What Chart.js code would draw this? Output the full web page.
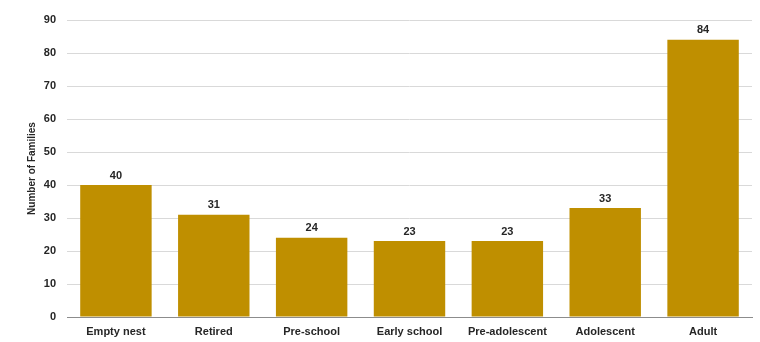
<!DOCTYPE html>
<html>
<head>
<meta charset="utf-8">
<script src="https://cdn.jsdelivr.net/npm/chart.js@4/dist/chart.umd.min.js"></script>
<style>
  html, body { margin: 0; padding: 0; background: #fff; }
  #wrap { width: 760px; height: 342px; }
</style>
</head>
<body>
<div id="wrap"><canvas id="chart" width="760" height="342"></canvas></div>
<script>
// Family life-cycle stages
const stages = ['Empty nest', 'Retired', 'Pre-school', 'Early school', 'Pre-adolescent', 'Adolescent', 'Adult'];
const families = [40, 31, 24, 23, 23, 33, 84];

const FONT = "'Liberation Sans', Arial, sans-serif";
const barColor = '#bf8f00';

// draw the value above each bar
const valueLabels = {
  id: 'valueLabels',
  afterDatasetsDraw(chart) {
    const ctx = chart.ctx;
    const meta = chart.getDatasetMeta(0);
    ctx.save();
    ctx.font = 'bold 11px ' + FONT;
    ctx.fillStyle = '#262626';
    ctx.textAlign = 'center';
    ctx.textBaseline = 'bottom';
    meta.data.forEach((bar, i) => {
      ctx.fillText(families[i], bar.x, bar.y - 4);
    });
    ctx.restore();
  }
};

new Chart(document.getElementById('chart'), {
  type: 'bar',
  data: {
    labels: stages,
    datasets: [{
      label: 'Number of Families',
      data: families,
      backgroundColor: barColor,
      categoryPercentage: 0.73,
      barPercentage: 1.0
    }]
  },
  options: {
    responsive: false,
    animation: false,
    layout: { padding: { left: 22, right: 8, top: 20, bottom: 4 } },
    plugins: {
      legend: { display: false },
      tooltip: { enabled: false }
    },
    scales: {
      x: {
        grid: { display: false, drawTicks: false },
        border: { display: true, color: '#8c8c8c', width: 1 },
        ticks: {
          color: '#262626',
          font: { family: FONT, size: 11, weight: 'bold' },
          padding: 8,
          maxRotation: 0
        },
        afterFit(scale) { scale.height = 21; }
      },
      y: {
        min: 0,
        max: 90,
        ticks: {
          stepSize: 10,
          color: '#262626',
          font: { family: FONT, size: 11, weight: 'bold' },
          padding: 11
        },
        grid: { color: '#d9d9d9', drawTicks: false },
        border: { display: false },
        title: {
          display: true,
          text: 'Number of Families',
          color: '#262626',
          font: { family: FONT, size: 10, weight: 'bold' },
          padding: { top: 4, bottom: 6 }
        },
        afterFit(scale) { scale.width = 45; }
      }
    }
  },
  plugins: [valueLabels]
});
</script>
</body>
</html>
